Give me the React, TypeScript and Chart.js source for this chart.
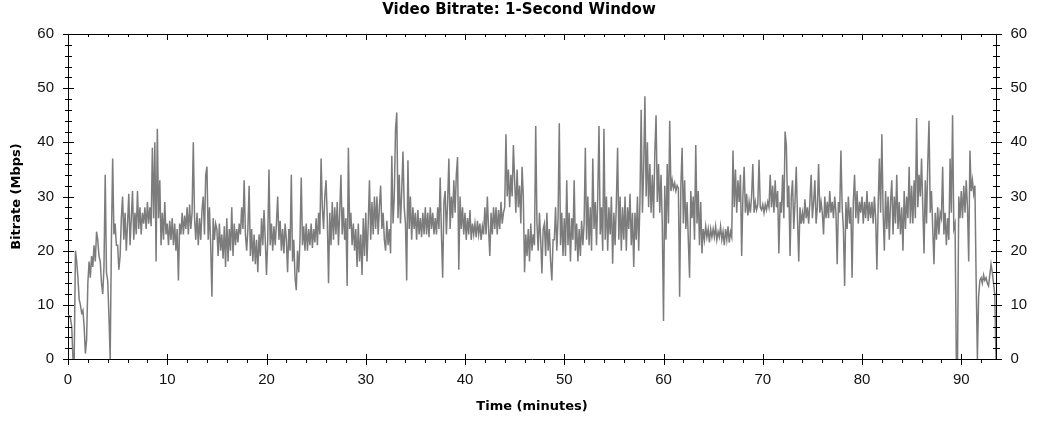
import React, { useEffect, useRef } from 'react';
import { Chart, registerables } from 'chart.js';

Chart.register(...registerables);

const chartTitle = 'Video Bitrate: 1-Second Window';
const xAxisTitle = 'Time (minutes)';
const yAxisTitle = 'Bitrate (Mbps)';

const xTicks = [0, 10, 20, 30, 40, 50, 60, 70, 80, 90];
const yTicks = [0, 10, 20, 30, 40, 50, 60];
const xMax = 93.5;
const yMax = 60;

// one value every 1/8 minute (7.5 s); one row per minute
const sampleStepMinutes = 0.125;
const bitrateMbps = [
  8, 8, 7.5, 6, 0, 0, 20, 18,
  15, 11, 10, 8.5, 9, 6, 1, 3.5,
  14, 18, 15, 19, 17, 21, 18, 23.5,
  22, 19, 18, 14, 12, 17, 34, 16,
  14.5, 8, 0, 22, 37, 23, 25, 21,
  21, 16.5, 19, 26, 30, 22, 27, 20,
  25, 30.5, 21, 26, 31, 22, 27, 23,
  31, 24, 28, 23, 27, 25, 28, 24,
  29, 25, 28, 24.5, 39, 26, 40, 18,
  42.5, 26, 33, 21, 27, 22, 29, 23,
  25, 21, 25.5, 22, 26, 21, 25, 20,
  24, 14.5, 25, 23, 27, 23, 26.5, 24,
  28, 23, 28.5, 24, 27, 40, 26, 22,
  27, 21, 26, 22, 27.5, 30, 23, 34,
  35.5, 22, 28, 21, 11.5, 26, 22, 25,
  24, 19, 25, 20, 23, 18.5, 24.5, 17,
  26, 18, 24, 20, 28, 19, 25, 21,
  24, 21.5, 25, 23, 28, 24, 33, 23,
  20, 24, 32, 19, 24, 18, 23, 17.5,
  22, 16, 23, 19, 26, 21, 27.5, 22,
  15.5, 22, 35, 21, 25, 20, 24.5, 21,
  25, 30, 22, 25.5, 20, 24, 19.5, 25,
  22, 16, 24, 20, 34, 18, 22, 15,
  12.7, 20, 16, 22, 33.5, 21, 24.5, 20,
  25, 20, 24, 21, 25, 20.5, 24, 21.5,
  26, 21, 27, 23, 37, 28, 24, 30,
  33, 26, 14, 27, 21, 29, 22, 28,
  23, 29, 21, 27, 34, 23, 28, 22,
  26, 13.5, 39, 24, 27, 21, 25, 20,
  24, 17, 25, 18, 23, 15.5, 26, 19,
  27, 18, 25, 33, 22, 29, 23, 30,
  24, 30, 23, 28, 32, 24, 27, 22,
  20, 25.5, 21, 24, 19.5, 37.5, 25, 30,
  42.5, 45.5, 26, 34, 25, 31, 38.3, 28,
  25, 14.5, 36.7, 24, 30, 22, 28, 24,
  27, 22, 27.5, 23, 26, 22.5, 27, 23,
  28, 23, 27, 22.5, 28, 24, 27, 23,
  26, 23, 28, 24, 33.5, 23, 15, 29,
  31, 23, 29, 37, 24, 30, 26, 33,
  27, 34, 37.3, 16.5, 30, 24, 28, 23,
  27, 22, 26, 23, 27.5, 22, 25, 23,
  25, 22.5, 25.5, 23, 25, 22, 24.5, 23,
  28, 23, 30, 24, 19, 27, 23, 28,
  24, 28, 23, 27.5, 24, 29, 25, 27,
  28, 41.5, 30, 35, 28, 34, 30, 39.5,
  33, 27, 35, 28, 32, 25, 35.5, 30,
  16, 23, 19, 24, 18, 25, 20, 23,
  21, 43, 25, 20, 27, 22, 15.8, 24,
  25, 19, 27, 20, 24, 18, 14.5, 22,
  22, 28, 20, 26, 43.5, 21, 27, 19,
  26, 19, 33, 21, 27, 18, 26, 22,
  33, 20, 25, 18, 24, 19, 25.5, 21,
  25, 39, 22, 30, 21, 28, 20, 37,
  24, 29, 21, 30, 43, 23, 28, 20,
  42.5, 22, 30, 20, 28, 23, 30, 17.6,
  27, 21, 29, 39, 22, 30, 20, 28,
  22, 30, 20, 28, 24, 30.5, 21, 27,
  17, 27, 22, 30, 20, 29, 46, 27,
  35, 48.5, 30, 40, 28, 36, 27, 34,
  26, 38, 45, 29, 36, 27, 34, 25,
  7, 32, 22, 36, 25, 44, 31, 33,
  31.5, 32.5, 31, 32, 31.5, 11.5, 32, 39,
  25, 33, 24, 29, 22, 15, 31, 26,
  30, 22, 39.5, 25, 31, 21, 29, 19.5,
  24, 22, 24.5, 22.5, 24, 21.5, 24, 22.5,
  24, 22.5, 24.5, 22, 23.5, 22.5, 24.5, 22,
  23.5, 21, 24, 22, 24.5, 21.5, 23.5, 22.5,
  38.5, 28, 35, 27, 33, 29, 34, 19,
  30, 35.5, 27, 30.5, 26.5, 29, 27, 30,
  36, 27, 29, 27.5, 28.5, 36.8, 28, 27.5,
  28.5, 27, 28.5, 27.5, 29, 28, 34, 28,
  32, 27, 33, 28, 31, 19.5, 29, 27,
  34, 26, 42, 39.5, 28, 32, 19, 30,
  33, 24, 29, 35.5, 26, 18, 28, 25,
  27, 25, 29.5, 26, 28, 25, 29, 34,
  26, 29, 33, 25, 28, 36, 27, 29,
  27, 23, 30, 26, 29, 26, 31, 27,
  29, 26, 30, 27, 17.5, 29, 27, 38.5,
  28, 24, 13.5, 29, 24, 30, 25, 28,
  15, 29, 34, 26, 31, 25, 29, 27,
  30, 25, 29, 26, 31, 25.5, 29, 26,
  29, 25, 30, 26, 16.5, 28, 37, 27,
  41.5, 27, 20, 31, 24, 30, 22, 29,
  33, 23, 30, 25, 34, 24, 29, 23,
  28, 20, 31, 24, 30, 26, 35.5, 25,
  32, 25, 33, 26, 44.5, 28, 34, 30,
  37, 28, 19.5, 33, 25, 36, 44, 27,
  31, 24, 17.5, 27, 22, 28, 23, 27,
  26, 35.5, 23, 27, 21, 26, 22, 37,
  27, 45, 24, 25, 0, 0, 30, 26,
  31, 26, 32, 27, 33, 28, 18, 38.5,
  31, 33, 30.5, 32, 14.5, 0, 11.5, 14.5,
  15, 14, 15.5, 14.5, 15, 14, 13.5, 15.5,
  17.5, 16, 14, 12, 0,
];

const FONT = '"Liberation Sans", Arial, Helvetica, sans-serif';
const TITLE_FONT = '"DejaVu Sans", Verdana, sans-serif';
const TEXT_COLOR = '#111111';
const LINE_COLOR = '#7c7c7c';

const frameTicks = {
  id: 'frameTicks',
  afterDraw(chart: any) {
    const { ctx, chartArea } = chart;
    const xs = chart.scales.x;
    const ys = chart.scales.y;
    const { left, right, top, bottom } = chartArea;
    const al = (p: number) => Math.round(p) + 0.5;
    ctx.save();
    ctx.strokeStyle = '#000';
    ctx.lineWidth = 1;
    ctx.beginPath();
    for (let v = 0; v <= yMax; v += 2) {
      const py = al(ys.getPixelForValue(v));
      const major = v % 10 === 0;
      const a = major ? 5 : 3;
      ctx.moveTo(Math.round(left) - a, py);
      ctx.lineTo(Math.round(left) + a + 1, py);
      ctx.moveTo(Math.round(right) - a, py);
      ctx.lineTo(Math.round(right) + a + 1, py);
    }
    for (let t = 0; t <= xMax; t += 2) {
      const px = al(xs.getPixelForValue(t));
      const major = t % 10 === 0;
      if (major) {
        ctx.moveTo(px, Math.round(bottom) - 5);
        ctx.lineTo(px, Math.round(bottom) + 6);
        ctx.moveTo(px, Math.round(top));
        ctx.lineTo(px, Math.round(top) + 6);
      } else {
        ctx.moveTo(px, Math.round(bottom));
        ctx.lineTo(px, Math.round(bottom) + 4);
        ctx.moveTo(px, Math.round(top));
        ctx.lineTo(px, Math.round(top) + 3);
      }
    }
    ctx.stroke();
    ctx.restore();
  },
};

export default function App() {
  const canvasRef = useRef<HTMLCanvasElement | null>(null);

  useEffect(() => {
    if (!canvasRef.current) return;
    const points = bitrateMbps.map((v, i) => ({ x: i * sampleStepMinutes, y: v }));
    const tickFont = { family: FONT, size: 15 };
    const chart = new Chart(canvasRef.current, {
      type: 'line',
      data: {
        datasets: [
          {
            data: points,
            borderColor: LINE_COLOR,
            borderWidth: 1.5,
            pointRadius: 0,
            tension: 0,
            fill: false,
          },
        ],
      },
      options: {
        responsive: false,
        animation: false,
        layout: { padding: 0 },
        plugins: {
          legend: { display: false },
          tooltip: { enabled: false },
          title: {
            display: true,
            text: chartTitle,
            color: '#000',
            font: { family: TITLE_FONT, size: 15, weight: 'bold' },
            padding: { top: 1, bottom: 15 },
          },
        },
        scales: {
          x: {
            type: 'linear',
            position: 'bottom',
            min: 0,
            max: xMax,
            afterBuildTicks: (s: any) => {
              s.ticks = xTicks.map((v) => ({ value: v }));
            },
            ticks: { font: tickFont, color: TEXT_COLOR, padding: 12, maxRotation: 0, autoSkip: false, includeBounds: false },
            grid: { display: false, drawTicks: false },
            border: { display: true, color: '#000', width: 1 },
            title: {
              display: true,
              text: xAxisTitle,
              color: '#000',
              font: { family: TITLE_FONT, size: 13, weight: 'bold' },
              padding: { top: 0, bottom: 7.6 },
            },
            afterFit: (s: any) => {
              s.height = 63;
            },
          },
          x2: {
            type: 'linear',
            position: 'top',
            min: 0,
            max: xMax,
            ticks: { display: false },
            grid: { display: false, drawTicks: false },
            border: { display: true, color: '#000', width: 1 },
            afterFit: (s: any) => {
              s.height = 0;
            },
          },
          y: {
            type: 'linear',
            position: 'left',
            min: 0,
            max: yMax,
            afterBuildTicks: (s: any) => {
              s.ticks = yTicks.map((v) => ({ value: v }));
            },
            ticks: { font: tickFont, color: TEXT_COLOR, padding: 14 },
            grid: { display: false, drawTicks: false },
            border: { display: true, color: '#000', width: 1 },
            title: {
              display: true,
              text: yAxisTitle,
              color: '#000',
              font: { family: TITLE_FONT, size: 13, weight: 'bold' },
              padding: { top: 9.2, bottom: 0 },
            },
            afterFit: (s: any) => {
              s.width = 68;
            },
          },
          y2: {
            type: 'linear',
            position: 'right',
            min: 0,
            max: yMax,
            afterBuildTicks: (s: any) => {
              s.ticks = yTicks.map((v) => ({ value: v }));
            },
            ticks: { font: tickFont, color: TEXT_COLOR, padding: 14.5 },
            grid: { display: false, drawTicks: false },
            border: { display: true, color: '#000', width: 1 },
            afterFit: (s: any) => {
              s.width = 42;
            },
          },
        },
      } as any,
      plugins: [frameTicks],
    });
    return () => chart.destroy();
  }, []);

  return (
    <div style={{ position: 'absolute', left: 0, top: 0, width: 1038, height: 422, background: '#fff' }}>
      <canvas ref={canvasRef} width={1038} height={422} style={{ display: 'block' }} />
    </div>
  );
}
